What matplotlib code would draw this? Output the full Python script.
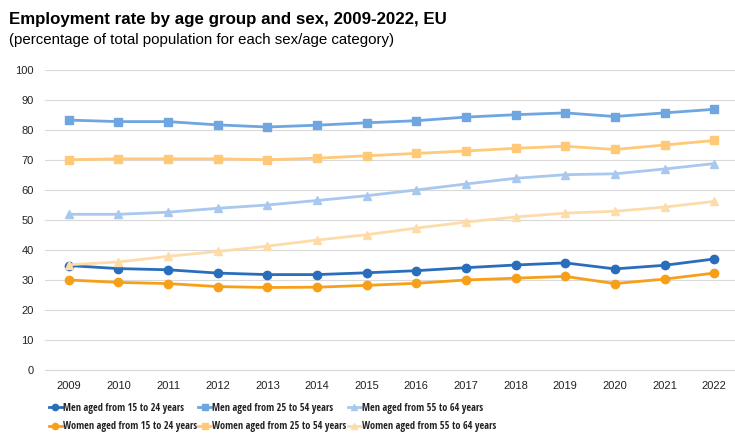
import matplotlib
matplotlib.use("Agg")
import matplotlib.pyplot as plt
from matplotlib import font_manager

plt.rcParams['font.family'] = ['Liberation Sans', 'DejaVu Sans']
names = {f.name for f in font_manager.fontManager.ttflist}
cands = ['Liberation Sans Narrow', 'Open Sans Condensed', 'Roboto Condensed',
         'Arial Narrow', 'DejaVu Sans Condensed']
narrow = next((c for c in cands if c in names), None)

years = list(range(2009, 2023))
men_15_24 = [34.8, 33.8, 33.4, 32.3, 31.8, 31.8, 32.4, 33.1, 34.1, 35.0, 35.7, 33.7, 34.9, 37.0]
men_25_54 = [83.3, 82.8, 82.8, 81.7, 81.0, 81.6, 82.4, 83.1, 84.3, 85.1, 85.7, 84.5, 85.7, 86.9]
men_55_64 = [51.9, 51.9, 52.6, 53.9, 55.0, 56.5, 58.1, 60.0, 62.0, 63.9, 65.1, 65.4, 67.0, 68.8]
women_15_24 = [30.0, 29.2, 28.8, 27.8, 27.5, 27.6, 28.2, 28.9, 30.0, 30.6, 31.2, 28.8, 30.3, 32.3]
women_25_54 = [70.1, 70.4, 70.4, 70.4, 70.1, 70.6, 71.4, 72.2, 73.0, 73.9, 74.6, 73.5, 75.0, 76.5]
women_55_64 = [35.1, 36.0, 37.9, 39.5, 41.3, 43.3, 45.1, 47.3, 49.3, 51.0, 52.3, 52.9, 54.3, 56.2]

series = [
    ("Men aged from 15 to 24 years", men_15_24, "#2a6ebb", "o"),
    ("Women aged from 15 to 24 years", women_15_24, "#f6a01a", "o"),
    ("Men aged from 25 to 54 years", men_25_54, "#6fa5e0", "s"),
    ("Women aged from 25 to 54 years", women_25_54, "#ffc977", "s"),
    ("Men aged from 55 to 64 years", men_55_64, "#a9c8ee", "^"),
    ("Women aged from 55 to 64 years", women_55_64, "#fddcaa", "^"),
]

fig = plt.figure(figsize=(7.35, 4.34), dpi=100)
ax = fig.add_axes([0.061, 0.1475, 0.939, 0.6912])

for label, vals, color, m in series:
    ax.plot(years, vals, color=color, marker=m, markersize=6, linewidth=2, label=label)

ax.set_ylim(0, 100)
ax.set_yticks(range(0, 101, 10))
ax.set_xlim(2008.516, 2022.42)
ax.set_xticks(years)
ax.grid(axis='y', color='#d9d9d9', linewidth=0.8)
ax.set_axisbelow(True)
for s in ['top', 'right', 'left']:
    ax.spines[s].set_visible(False)
ax.spines['bottom'].set_color('#d9d9d9')
ax.tick_params(axis='both', length=0, labelsize=8, colors='#222222')
ax.tick_params(axis='y', pad=8)
ax.tick_params(axis='x', pad=8)

fig.text(0.012, 0.955, "Employment rate by age group and sex, 2009-2022, EU",
         fontsize=12.2, fontweight='bold', va='center')
fig.text(0.012, 0.907, "(percentage of total population for each sex/age category)",
         fontsize=10.8, va='center')

if narrow:
    prop = {'family': narrow, 'size': 7.4, 'weight': 'bold'}
    colsp = 0.1
else:
    prop = {'family': 'Liberation Sans', 'size': 6.6, 'weight': 'bold'}
    colsp = 1.0

handles, labels = ax.get_legend_handles_labels()
leg = fig.legend(handles, labels, ncol=3, loc='upper left', bbox_to_anchor=(0.066, 0.072),
                 frameon=False, prop=prop, borderpad=0, borderaxespad=0,
                 handlelength=1.3, handletextpad=0.1,
                 columnspacing=colsp, labelspacing=0.75, markerscale=0.75)
for t in leg.get_texts():
    t.set_color('#222222')

fig.savefig("out.png", dpi=100)
